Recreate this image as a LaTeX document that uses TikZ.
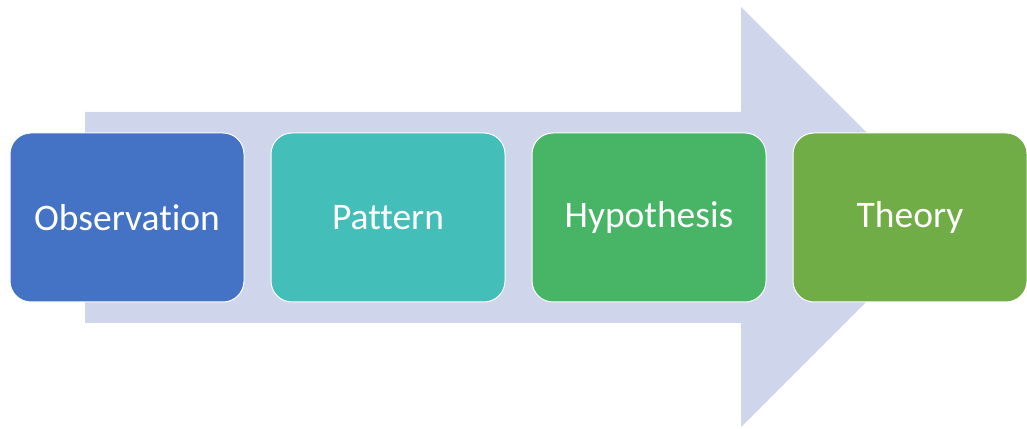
\documentclass[tikz,border=0pt]{standalone}
\usepackage{fontspec}
\setmainfont{Carlito}[Ligatures=NoCommon]
\usepackage{tikz}
\usetikzlibrary{positioning}
\definecolor{arrowbg}{HTML}{CFD5EA}
\definecolor{obsblue}{HTML}{4472C4}
\definecolor{patteal}{HTML}{43BEB8}
\definecolor{hypgreen}{HTML}{47B565}
\definecolor{thyolive}{HTML}{70AD47}

\begin{document}
\begin{tikzpicture}[x=1pt,y=1pt,
  stage/.style={draw=white,line width=1pt,rounded corners=21pt,minimum width=234pt,minimum height=169pt,align=center,font=\fontsize{37.5}{40}\selectfont,text=white,inner sep=2pt}]
\useasboundingbox (0,0) rectangle (1027,428);
\fill[arrowbg] (85,105) -- (85,316) -- (741,316) -- (741,421) -- (951,211) -- (741,1) -- (741,105) -- cycle;
\node[stage,fill=obsblue] (obs) at (127,210.5) {Observation};
\node[stage,fill=patteal,right=26pt of obs] (pat) {Pattern};
\node[stage,fill=hypgreen,right=26pt of pat] (hyp) {Hypothesis};
\node[stage,fill=thyolive,right=26pt of hyp] (thy) {Theory};
\end{tikzpicture}
\end{document}
